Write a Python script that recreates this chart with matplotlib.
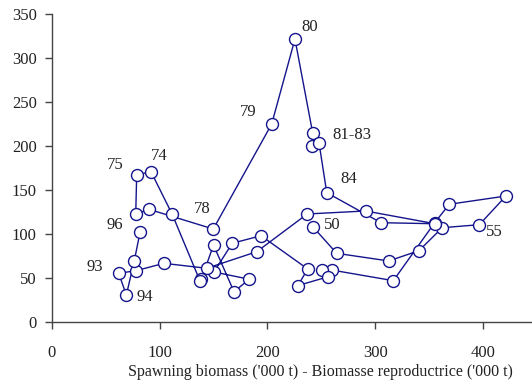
import matplotlib
matplotlib.use("Agg")
import matplotlib.pyplot as plt

# --- Data: spawning biomass vs recruitment, 1950-1996 ---------------------
years = list(range(1950, 1997))

biomass = [
    242.5, 264.2, 312.5, 340.6, 362.2, 396.6, 421.3, 368.7, 355.2, 316.8,   # 1950-59
    259.6, 250.3, 256.4, 228.3, 237.3, 194.0, 167.3, 150.3, 183.1, 168.9,   # 1960-69
    149.9, 138.7, 137.4, 111.6, 91.9, 78.6, 77.7, 90.0, 149.7, 203.9,       # 1970-79
    225.5, 242.0, 241.6, 247.8, 255.0, 305.3, 355.5, 291.1, 236.9, 190.0,   # 1980-89
    143.6, 103.9, 77.7, 61.9, 69.0, 76.4, 81.7,                             # 1990-96
]

recruitment = [
    108.0, 78.4, 69.7, 81.4, 107.5, 110.9, 143.5, 134.1, 113.2, 47.3,
    59.4, 59.4, 51.8, 41.8, 60.6, 98.4, 89.8, 57.2, 48.9, 34.8,
    87.8, 49.2, 46.9, 122.7, 171.1, 167.4, 122.7, 128.4, 106.0, 225.3,
    321.9, 214.8, 200.7, 204.1, 147.3, 113.2, 112.0, 126.5, 123.1, 80.2,
    61.4, 67.0, 58.6, 55.7, 31.0, 70.0, 102.3,
]

# year labels written next to some points
label_text = ["50", "55", "74", "75", "78", "79", "80", "81-83", "84", "93", "94", "96"]
label_x = [260.5, 410.2, 99.3, 58.5, 139.5, 182.2, 239.4, 278.1, 275.6, 39.9, 86.6, 58.5]
label_y = [110.6, 103.0, 189.3, 178.8, 128.8, 238.6, 335.6, 212.8, 162.8, 62.5, 29.1, 110.6]

LINE_COLOR = "#14148c"

plt.rcParams["font.family"] = ["Liberation Serif", "DejaVu Serif"]

fig = plt.figure(figsize=(5.32, 3.81), dpi=100)
ax = fig.add_axes([52 / 532, 1 - 322.3 / 381, 480 / 532, (322.3 - 14.3) / 381])

ax.plot(biomass, recruitment, "-o", color=LINE_COLOR, lw=1.0,
        marker="o", ms=8.6, mfc="white", mec=LINE_COLOR, mew=1.0,
        clip_on=False)

for txt, tx, ty in zip(label_text, label_x, label_y):
    ax.text(tx, ty, txt, fontsize=12, ha="center", va="center", color="#222222")

ax.set_xlim(0, 445.5)
ax.set_ylim(0, 350)
ax.set_xticks([0, 100, 200, 300, 400])
ax.set_yticks(range(0, 351, 50))

ax.spines["top"].set_visible(False)
ax.spines["right"].set_visible(False)
for side in ("left", "bottom"):
    ax.spines[side].set_color("#444444")
    ax.spines[side].set_linewidth(1.0)

ax.tick_params(axis="both", direction="out", length=5, width=1.0,
               color="#444444", labelsize=12, labelcolor="#222222")
ax.tick_params(axis="x", pad=11)
ax.tick_params(axis="y", pad=6)

fig.text(320 / 532, 1 - 372 / 381,
         "Spawning biomass ('000 t) - Biomasse reproductrice ('000 t)",
         ha="center", va="center", fontsize=11.5, color="#222222")

fig.savefig("out.png", dpi=100)
